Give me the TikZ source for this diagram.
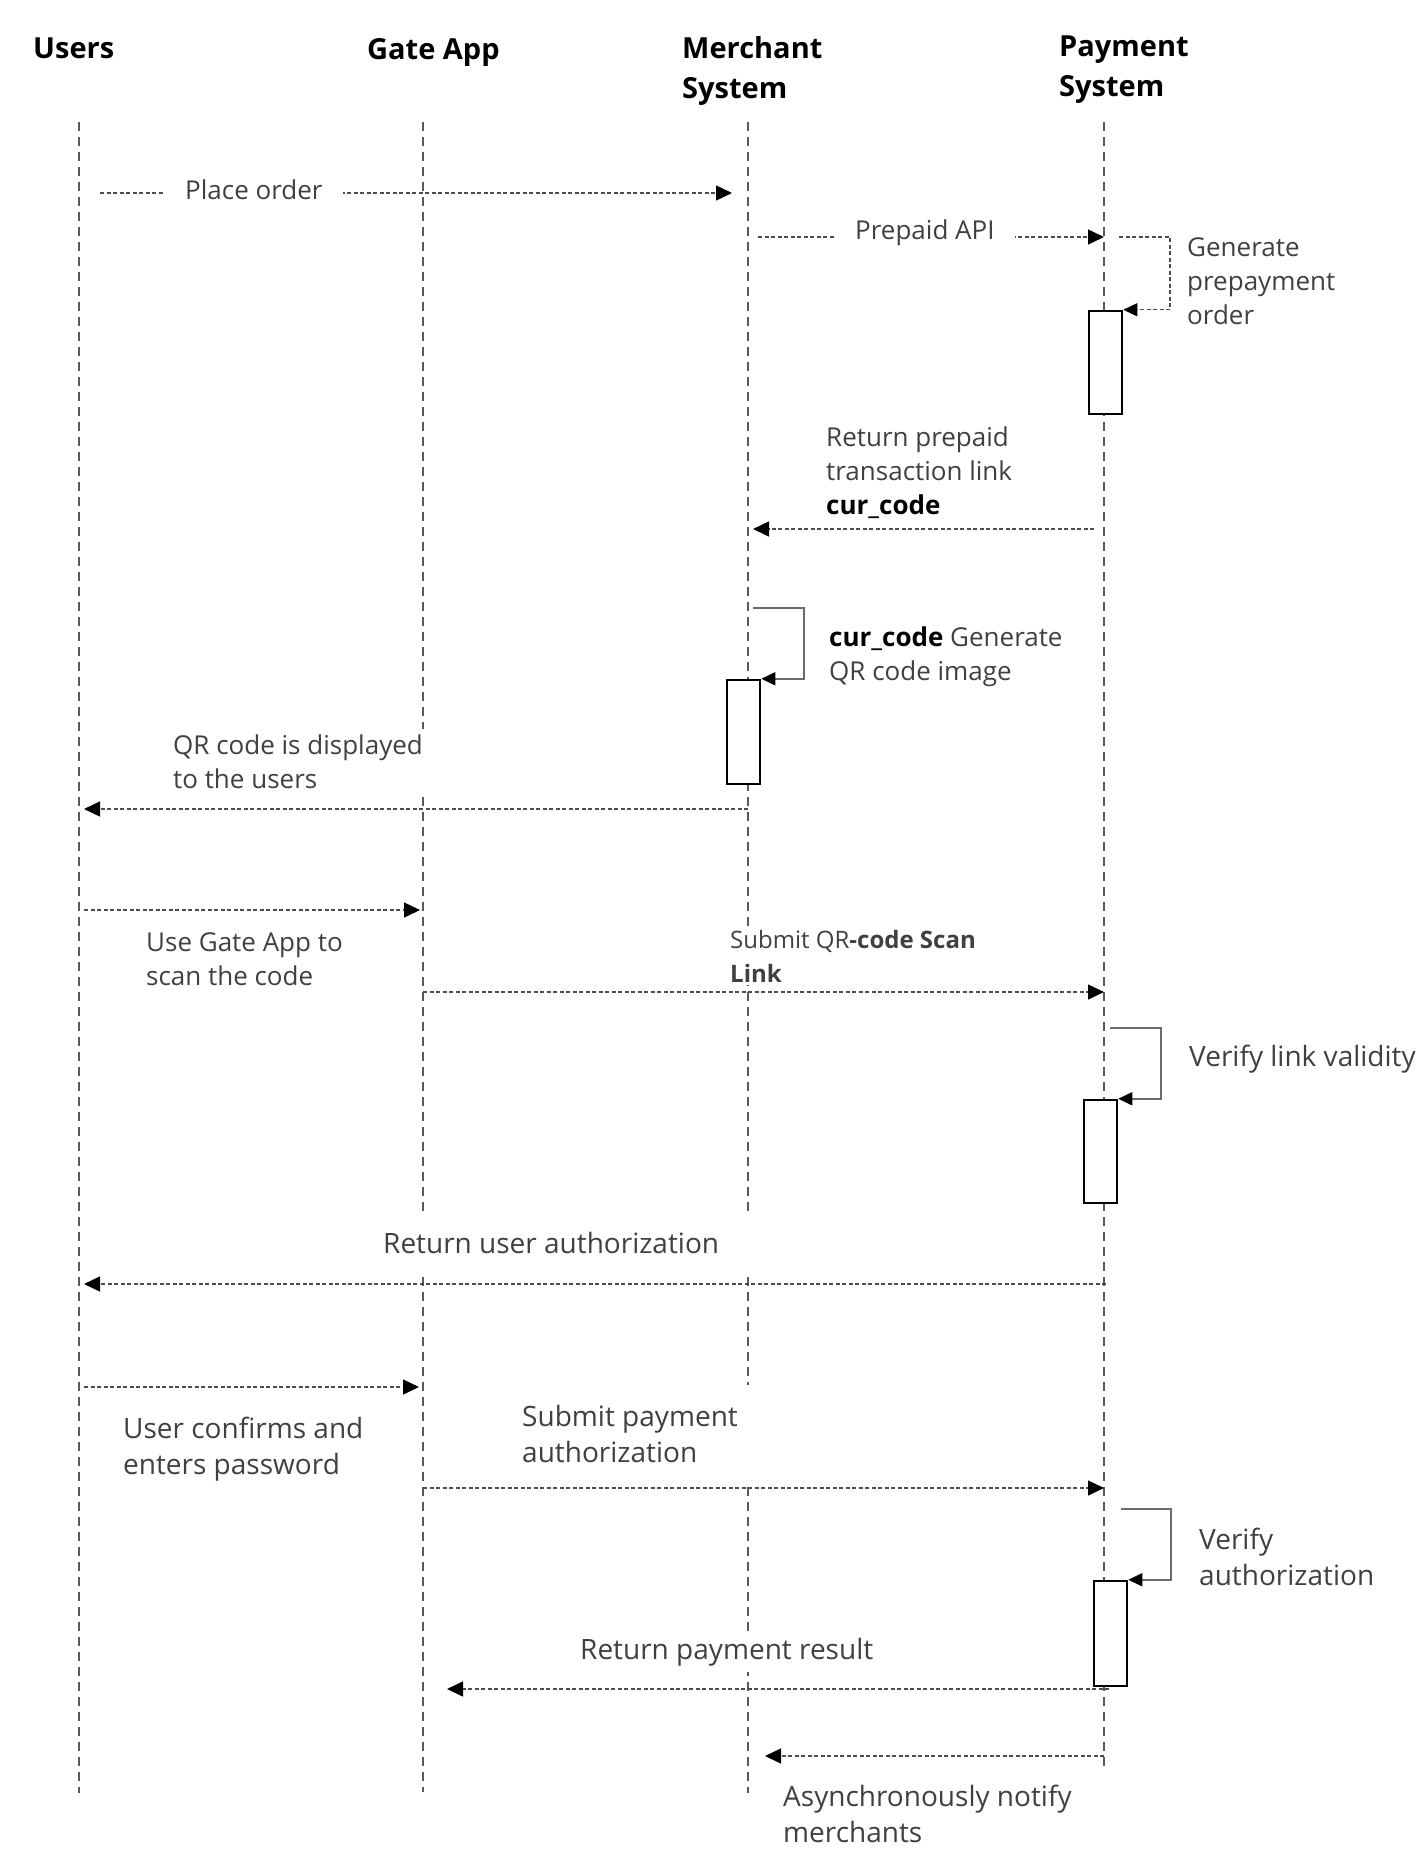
\documentclass[tikz,border=0pt]{standalone}
\usepackage{fontspec}
\setmainfont{Open Sans}
\usetikzlibrary{arrows.meta}
\definecolor{label gray}{rgb}{0.25, 0.25, 0.25}
\definecolor{life gray}{rgb}{0.35, 0.35, 0.35}
\definecolor{call gray}{rgb}{0.42, 0.42, 0.42}

\newcommand{\lblsize}{\fontsize{26}{34}\selectfont}
\newcommand{\lblbig}{\fontsize{28}{36}\selectfont}
\newcommand{\lblsmall}{\fontsize{24}{34}\selectfont}
\newcommand{\headsize}{\fontsize{29}{40}\selectfont\bfseries}

\tikzset{
	head/.style={font=\headsize, align=left, inner sep=0pt, anchor=north west},
	lbl/.style={font=\lblsize, text=label gray, align=left, inner sep=0pt, anchor=north west},
	big/.style={lbl, font=\lblbig},
	cover/.style={fill=white, inner xsep=20pt, inner ysep=6pt, xshift=-20pt, yshift=6pt},
	life/.style={life gray, line width=1.2pt, dash pattern=on 9pt off 6pt},
	tip/.style={-{Triangle[length=16pt, width=15pt, color=black]}},
	msg/.style={tip, draw=black!70, line width=1.4pt, dash pattern=on 4pt off 2.5pt},
	loopdash/.style={msg, -{Triangle[length=14pt, width=13pt, color=black]}},
	loopcall/.style={call gray, line width=1.6pt, -{Triangle[length=14pt, width=13pt, color=black]}},
	act/.style={draw=black, line width=2.5pt, fill=white, minimum width=33pt, inner sep=0pt},
}

\begin{document}
\begin{tikzpicture}[x=1pt, y=-1pt]
			\useasboundingbox (0,0) rectangle (1424,1874);
			% lifelines
			\coordinate (usr) at (79,122);
			\coordinate (gate) at (423,122);
			\coordinate (mer) at (748,122);
			\coordinate (pay) at (1104,122);
			\coordinate (usr-end) at (79,1793);
			\coordinate (gate-end) at (423,1792);
			\coordinate (mer-end) at (748,1793);
			\coordinate (pay-end) at (1104,1766);
			\foreach \p in {usr,gate,mer,pay}
				\draw[life] (\p) -- (\p-end);
			% heads
			\node[head] (usr-h) at (33,38) {Users};
			\node[head] (gate-h) at (367,38) {Gate App};
			\node[head] (mer-h) at (682,36) {Merchant\\System};
			\node[head] (pay-h) at (1059,36) {Payment\\System};
			% message levels
			\coordinate (order) at (0,193);
			\coordinate (api) at (0,237);
			\coordinate (link) at (0,529);
			\coordinate (show) at (0,809);
			\coordinate (scan) at (0,910);
			\coordinate (submit) at (0,992);
			\coordinate (auth) at (0,1284);
			\coordinate (confirm) at (0,1387);
			\coordinate (paysub) at (0,1488);
			\coordinate (result) at (0,1689);
			\coordinate (notify) at (0,1756);
			% place order
			\draw[msg, shorten <=21pt, shorten >=16pt] (usr |- order) -- (mer |- order);
			\node[lbl, cover] (order-l) at (185,180) {Place order};
			% prepaid api
			\draw[msg, shorten <=10pt] (mer |- api) -- (pay |- api);
			\node[lbl, cover] (api-l) at (855,220) {Prepaid API};
			% generate prepayment order
			\node[act, minimum height=103pt] (act1) at (1105.5,362.5) {};
			\coordinate (gen-s) at (1119,237);
			\draw[loopdash] (gen-s) -- ++(51,0) |- (act1.north east);
			\node[lbl] (gen-l) at (1187,237) {Generate\\prepayment\\order};
			% return link
			\node[lbl] (link-l) at (826,427) {Return prepaid\\transaction link\\\textbf{\color{black}cur\_code}};
			\draw[msg, shorten <=10pt, shorten >=5pt] (pay |- link) -- (mer |- link);
			% qr image
			\node[act, minimum height=104pt] (act2) at (743.5,732) {};
			\coordinate (qr-s) at (753,608);
			\draw[loopcall] (qr-s) -- ++(51,0) |- (act2.north east);
			\node[lbl] (qr-l) at (829,627) {\textbf{\color{black}cur\_code} Generate\\QR code image};
			% show to users
			\node[lbl, cover] (show-l) at (173,735) {QR code is displayed\\to the users};
			\draw[msg, shorten >=5pt] (mer |- show) -- (usr |- show);
			% scan
			\node[lbl] (scan-l) at (146,932) {Use Gate App to\\scan the code};
			\draw[msg, shorten <=5pt, shorten >=3pt] (usr |- scan) -- (gate |- scan);
			% submit link
			\node[lbl, cover, font=\lblsmall, inner ysep=3pt, yshift=-3pt] (submit-l) at (730,930) {Submit QR\textbf{-code Scan}\\\textbf{Link}};
			\draw[msg] (gate |- submit) -- (pay |- submit);
			% verify link
			\node[act, minimum height=103pt] (act3) at (1100.5,1151.5) {};
			\coordinate (valid-s) at (1110,1028);
			\draw[loopcall] (valid-s) -- ++(51,0) |- (act3.north east);
			\node[big] (valid-l) at (1189,1045) {Verify link validity};
			% return authorization
			\node[big, cover, inner xsep=40pt, xshift=-20pt, inner ysep=20pt, yshift=14pt] (auth-l) at (383,1232) {Return user authorization};
			\draw[msg, shorten <=-2pt, shorten >=5pt] (pay |- auth) -- (usr |- auth);
			% confirm
			\node[big] (conf-l) at (123,1417) {User confirms and\\enters password};
			\draw[msg, shorten <=5pt, shorten >=4pt] (usr |- confirm) -- (gate |- confirm);
			% submit payment
			\node[big, cover, inner ysep=20pt, yshift=14pt] (paysub-l) at (522,1405) {Submit payment\\authorization};
			\draw[msg] (gate |- paysub) -- (pay |- paysub);
			% verify authorization
			\node[act, minimum height=105pt] (act4) at (1110.5,1633.5) {};
			\coordinate (vauth-s) at (1121,1509);
			\draw[loopcall] (vauth-s) -- ++(50,0) |- (act4.north east);
			\node[big] (vauth-l) at (1199,1528) {Verify\\authorization};
			% payment result
			\node[big, cover] (result-l) at (580,1638) {Return payment result};
			\draw[msg, shorten <=-5pt, shorten >=24pt] (pay |- result) -- (gate |- result);
			% notify
			\draw[msg, shorten >=17pt] (pay |- notify) -- (mer |- notify);
			\node[big] (notify-l) at (783,1785) {Asynchronously notify\\merchants};
		\end{tikzpicture}
\end{document}
